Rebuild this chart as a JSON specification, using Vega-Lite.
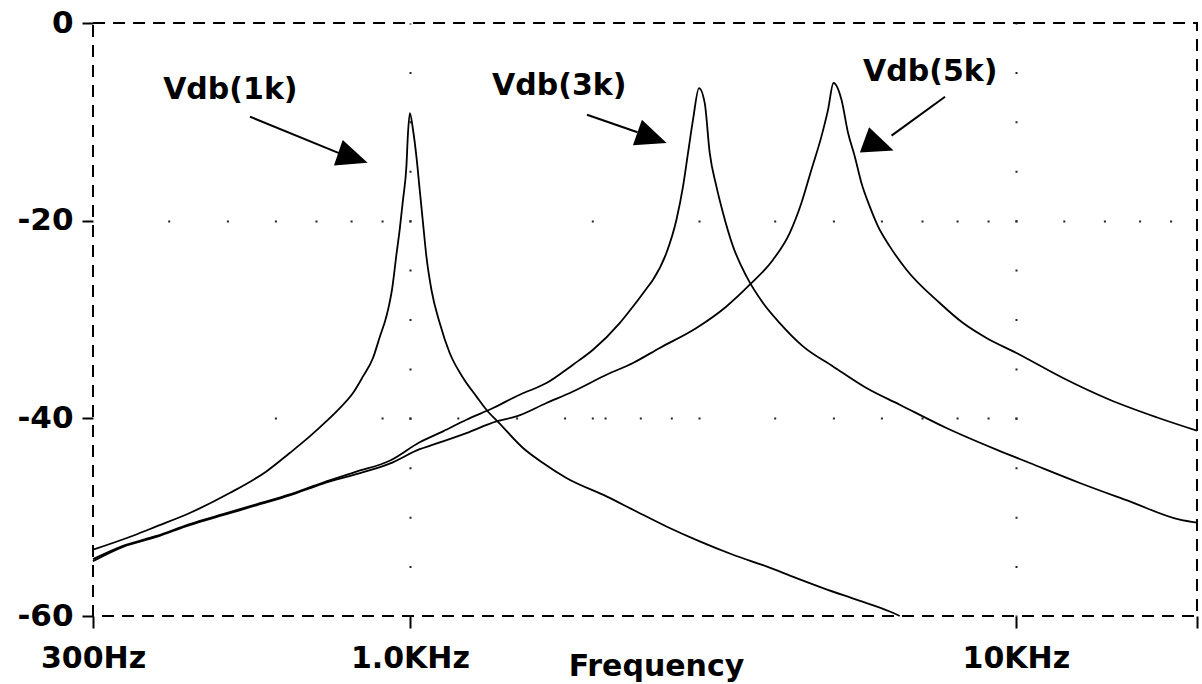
{
  "$schema": "https://vega.github.io/schema/vega-lite/v6.json",
  "width": 1104,
  "height": 593,
  "autosize": {"type": "none"},
  "padding": {"left": 93, "top": 23, "right": 5, "bottom": 68},
  "background": "white",
  "config": {
    "view": {"stroke": "black", "strokeWidth": 2, "strokeDash": [12, 8]},
    "font": "DejaVu Sans"
  },
  "datasets": {
    "curves": [
      {"series": "1k", "freq": 300, "db": -53.29},
      {"series": "1k", "freq": 349.2, "db": -51.88},
      {"series": "1k", "freq": 381.8, "db": -50.94},
      {"series": "1k", "freq": 433.2, "db": -49.58},
      {"series": "1k", "freq": 504.3, "db": -47.56},
      {"series": "1k", "freq": 579.7, "db": -45.37},
      {"series": "1k", "freq": 633.4, "db": -43.51},
      {"series": "1k", "freq": 683.6, "db": -41.83},
      {"series": "1k", "freq": 728.4, "db": -40.29},
      {"series": "1k", "freq": 766.2, "db": -38.96},
      {"series": "1k", "freq": 805.6, "db": -37.44},
      {"series": "1k", "freq": 836.8, "db": -35.76},
      {"series": "1k", "freq": 869.2, "db": -33.9},
      {"series": "1k", "freq": 891.6, "db": -31.8},
      {"series": "1k", "freq": 914.6, "db": -29.69},
      {"series": "1k", "freq": 924.4, "db": -28.5},
      {"series": "1k", "freq": 934.3, "db": -26.99},
      {"series": "1k", "freq": 942.8, "db": -25.16},
      {"series": "1k", "freq": 950.1, "db": -23.44},
      {"series": "1k", "freq": 962.1, "db": -20.91},
      {"series": "1k", "freq": 974.3, "db": -17.88},
      {"series": "1k", "freq": 986.9, "db": -14.51},
      {"series": "1k", "freq": 992.9, "db": -11.13},
      {"series": "1k", "freq": 1000, "db": -9.11},
      {"series": "1k", "freq": 1012, "db": -10.8},
      {"series": "1k", "freq": 1025.1, "db": -13.5},
      {"series": "1k", "freq": 1038.1, "db": -16.87},
      {"series": "1k", "freq": 1051.2, "db": -20.24},
      {"series": "1k", "freq": 1064.8, "db": -23.62},
      {"series": "1k", "freq": 1085.3, "db": -26.99},
      {"series": "1k", "freq": 1120.1, "db": -30.36},
      {"series": "1k", "freq": 1163.4, "db": -33.39},
      {"series": "1k", "freq": 1223.7, "db": -35.89},
      {"series": "1k", "freq": 1287.6, "db": -37.78},
      {"series": "1k", "freq": 1337.5, "db": -39.13},
      {"series": "1k", "freq": 1406.9, "db": -40.54},
      {"series": "1k", "freq": 1537, "db": -43.0},
      {"series": "1k", "freq": 1658.6, "db": -44.52},
      {"series": "1k", "freq": 1812.5, "db": -46.04},
      {"series": "1k", "freq": 2110.7, "db": -47.9},
      {"series": "1k", "freq": 2334.6, "db": -49.25},
      {"series": "1k", "freq": 2650.4, "db": -50.94},
      {"series": "1k", "freq": 3008, "db": -52.45},
      {"series": "1k", "freq": 3413.7, "db": -53.8},
      {"series": "1k", "freq": 3875.4, "db": -54.98},
      {"series": "1k", "freq": 4344, "db": -56.16},
      {"series": "1k", "freq": 4806.3, "db": -57.17},
      {"series": "1k", "freq": 5455.8, "db": -58.35},
      {"series": "1k", "freq": 6192.3, "db": -59.54},
      {"series": "1k", "freq": 6432, "db": -60},
      {"series": "3k", "freq": 300, "db": -54.25},
      {"series": "3k", "freq": 336.2, "db": -52.9},
      {"series": "3k", "freq": 381.8, "db": -51.9},
      {"series": "3k", "freq": 433.2, "db": -50.7},
      {"series": "3k", "freq": 491.6, "db": -49.7},
      {"series": "3k", "freq": 558.1, "db": -48.7},
      {"series": "3k", "freq": 633.4, "db": -47.7},
      {"series": "3k", "freq": 719.1, "db": -46.5},
      {"series": "3k", "freq": 816.1, "db": -45.4},
      {"series": "3k", "freq": 926.1, "db": -44.29},
      {"series": "3k", "freq": 1038.1, "db": -42.42},
      {"series": "3k", "freq": 1134.2, "db": -41.32},
      {"series": "3k", "freq": 1239.6, "db": -40.14},
      {"series": "3k", "freq": 1371.6, "db": -38.96},
      {"series": "3k", "freq": 1517.8, "db": -37.61},
      {"series": "3k", "freq": 1680.2, "db": -36.43},
      {"series": "3k", "freq": 1858.4, "db": -34.57},
      {"series": "3k", "freq": 2005.4, "db": -33.06},
      {"series": "3k", "freq": 2219.4, "db": -30.36},
      {"series": "3k", "freq": 2334.6, "db": -28.68},
      {"series": "3k", "freq": 2456.6, "db": -26.88},
      {"series": "3k", "freq": 2519, "db": -25.97},
      {"series": "3k", "freq": 2650.4, "db": -23.27},
      {"series": "3k", "freq": 2753.4, "db": -19.9},
      {"series": "3k", "freq": 2823.3, "db": -16.53},
      {"series": "3k", "freq": 2877.4, "db": -13.15},
      {"series": "3k", "freq": 2932.4, "db": -9.78},
      {"series": "3k", "freq": 3000, "db": -6.58},
      {"series": "3k", "freq": 3065.6, "db": -8.09},
      {"series": "3k", "freq": 3124.6, "db": -13.15},
      {"series": "3k", "freq": 3204.9, "db": -16.53},
      {"series": "3k", "freq": 3286.4, "db": -19.22},
      {"series": "3k", "freq": 3413.7, "db": -22.6},
      {"series": "3k", "freq": 3592.5, "db": -25.64},
      {"series": "3k", "freq": 3826, "db": -28.33},
      {"series": "3k", "freq": 4077.2, "db": -30.36},
      {"series": "3k", "freq": 4453.9, "db": -32.72},
      {"series": "3k", "freq": 4992.9, "db": -34.75},
      {"series": "3k", "freq": 5667, "db": -36.93},
      {"series": "3k", "freq": 6432.3, "db": -38.62},
      {"series": "3k", "freq": 7680.5, "db": -40.98},
      {"series": "3k", "freq": 9289.4, "db": -43.17},
      {"series": "3k", "freq": 10540, "db": -44.52},
      {"series": "3k", "freq": 12749, "db": -46.54},
      {"series": "3k", "freq": 15416, "db": -48.41},
      {"series": "3k", "freq": 18643, "db": -50.26},
      {"series": "3k", "freq": 19900, "db": -50.56},
      {"series": "5k", "freq": 300, "db": -54.45},
      {"series": "5k", "freq": 336.2, "db": -53.0},
      {"series": "5k", "freq": 381.8, "db": -52.0},
      {"series": "5k", "freq": 433.2, "db": -50.8},
      {"series": "5k", "freq": 491.6, "db": -49.8},
      {"series": "5k", "freq": 558.1, "db": -48.8},
      {"series": "5k", "freq": 633.4, "db": -47.8},
      {"series": "5k", "freq": 719.1, "db": -46.6},
      {"series": "5k", "freq": 816.1, "db": -45.65},
      {"series": "5k", "freq": 926.1, "db": -44.59},
      {"series": "5k", "freq": 1038.1, "db": -43.12},
      {"series": "5k", "freq": 1091.8, "db": -42.67},
      {"series": "5k", "freq": 1239.6, "db": -41.49},
      {"series": "5k", "freq": 1389.4, "db": -40.31},
      {"series": "5k", "freq": 1498.9, "db": -39.81},
      {"series": "5k", "freq": 1680.2, "db": -38.45},
      {"series": "5k", "freq": 1858.4, "db": -37.28},
      {"series": "5k", "freq": 2110.7, "db": -35.59},
      {"series": "5k", "freq": 2334.6, "db": -34.4},
      {"series": "5k", "freq": 2584, "db": -32.88},
      {"series": "5k", "freq": 2970.5, "db": -30.86},
      {"series": "5k", "freq": 3329.2, "db": -28.68},
      {"series": "5k", "freq": 3637.8, "db": -26.48},
      {"series": "5k", "freq": 3974.8, "db": -23.95},
      {"series": "5k", "freq": 4233.9, "db": -21.25},
      {"series": "5k", "freq": 4426.7, "db": -18.21},
      {"series": "5k", "freq": 4598.1, "db": -14.84},
      {"series": "5k", "freq": 4777.1, "db": -11.47},
      {"series": "5k", "freq": 4898.6, "db": -8.77},
      {"series": "5k", "freq": 5000, "db": -6.07},
      {"series": "5k", "freq": 5154.7, "db": -7.76},
      {"series": "5k", "freq": 5285.6, "db": -11.13},
      {"series": "5k", "freq": 5421.7, "db": -13.5},
      {"series": "5k", "freq": 5561, "db": -16.19},
      {"series": "5k", "freq": 5738.5, "db": -18.56},
      {"series": "5k", "freq": 5922.6, "db": -20.58},
      {"series": "5k", "freq": 6192.3, "db": -22.6},
      {"series": "5k", "freq": 6598.2, "db": -24.96},
      {"series": "5k", "freq": 7487.4, "db": -28.33},
      {"series": "5k", "freq": 8182.2, "db": -30.36},
      {"series": "5k", "freq": 8943, "db": -31.87},
      {"series": "5k", "freq": 10022, "db": -33.39},
      {"series": "5k", "freq": 11961, "db": -35.92},
      {"series": "5k", "freq": 14283, "db": -38.12},
      {"series": "5k", "freq": 17060, "db": -39.89},
      {"series": "5k", "freq": 19900, "db": -41.25}
    ],
    "arrows": [
      {"label": "Vdb(1k)", "freq": 544.6, "db": -9.48, "freq2": 763.9, "db2": -13.17},
      {"label": "Vdb(3k)", "freq": 1960.2, "db": -9.28, "freq2": 2374.8, "db2": -11.05},
      {"label": "Vdb(5k)", "freq": 7639.8, "db": -7.46, "freq2": 6234.9, "db2": -11.4}
    ],
    "heads": [
      {"label": "Vdb(1k)", "freq": 805.6, "db": -13.63},
      {"label": "Vdb(3k)", "freq": 2509.4, "db": -11.61},
      {"label": "Vdb(5k)", "freq": 5945.4, "db": -12.36}
    ],
    "labels": [
      {"label": "Vdb(1k)", "freq": 391.6, "db": -7.66},
      {"label": "Vdb(3k)", "freq": 1366.4, "db": -7.25},
      {"label": "Vdb(5k)", "freq": 5594.5, "db": -5.91}
    ]
  },
  "encoding": {
    "x": {
      "field": "freq",
      "type": "quantitative",
      "scale": {"type": "log", "domain": [300, 19900], "nice": false},
      "axis": {
        "title": "Frequency",
        "titleFont": "DejaVu Sans",
        "titleFontSize": 30,
        "titleFontWeight": "bold",
        "titleColor": "black",
        "titleX": 563,
        "titleY": 59,
        "titleAlign": "center",
        "titleBaseline": "alphabetic",
        "values": [300, 1000, 10000, 19900],
        "labelExpr": "datum.value == 300 ? '300Hz' : datum.value == 1000 ? '1.0KHz' : datum.value == 10000 ? '10KHz' : ''",
        "labelFlush": false,
        "labelOverlap": false,
        "labelFont": "DejaVu Sans",
        "labelFontSize": 30,
        "labelFontWeight": "bold",
        "labelColor": "black",
        "labelPadding": 15,
        "domain": false,
        "ticks": true,
        "tickSize": 12,
        "tickWidth": 2,
        "tickColor": "black",
        "grid": true,
        "gridColor": "#222222",
        "gridWidth": 2,
        "gridOpacity": {"condition": {"test": "datum.value == 1000 || datum.value == 10000", "value": 1}, "value": 0},
        "gridDash": [2, 47.42],
        "gridDashOffset": 1
      }
    },
    "y": {
      "field": "db",
      "type": "quantitative",
      "scale": {"domain": [-60, 0], "nice": false, "zero": false},
      "axis": {
        "title": null,
        "values": [0, -20, -40, -60],
        "labelExpr": "datum.value == 0 ? '0' : '-' + abs(datum.value)",
        "labelFont": "DejaVu Sans",
        "labelFontSize": 31,
        "labelFontWeight": "bold",
        "labelColor": "black",
        "labelPadding": 9,
        "domain": false,
        "ticks": true,
        "tickSize": 11,
        "tickWidth": 2,
        "tickColor": "black",
        "grid": true,
        "gridColor": "#222222",
        "gridWidth": 2,
        "gridOpacity": {"condition": {"test": "datum.value == -20 || datum.value == -40", "value": 1}, "value": 0},
        "gridDash": {
          "condition": {"test": "datum.value == -40", "value": [0, 181.4, 2, 104.7, 2, 25.8, 2, 45.9, 2, 56.8, 2, 46, 2, 25.7, 2, 10.8, 2, 33.2, 2, 29, 2, 25.7, 2, 73.7, 2, 56.7, 2, 46, 2, 38.6, 2, 33.1, 2, 29, 2, 25.8, 2, 300]},
          "value": [0, 74.7, 2, 56.7, 2, 46, 2, 38.6, 2, 33.1, 2, 29, 2, 25.8, 2, 180.4, 2, 104.7, 2, 73.7, 2, 56.7, 2, 46, 2, 38.6, 2, 33.1, 2, 29, 2, 25.8, 2, 45.9, 2, 38.6, 2, 33.2, 2, 29, 2, 200]
        }
      }
    }
  },
  "layer": [
    {
      "data": {"name": "curves"},
      "mark": {"type": "line", "color": "black", "strokeWidth": 1.8, "interpolate": "monotone"},
      "encoding": {"detail": {"field": "series", "type": "nominal"}}
    },
    {
      "data": {"name": "arrows"},
      "mark": {"type": "rule", "color": "black", "strokeWidth": 2},
      "encoding": {"x2": {"field": "freq2"}, "y2": {"field": "db2"}}
    },
    {
      "data": {"name": "heads"},
      "mark": {"type": "point", "shape": "M1,0L-1,-0.87L-1,0.87Z", "filled": true, "color": "black", "opacity": 1, "size": 960},
      "encoding": {
        "angle": {"field": "label", "type": "nominal", "scale": {"domain": ["Vdb(1k)", "Vdb(3k)", "Vdb(5k)"], "range": [19, 20, 142]}, "legend": null}
      }
    },
    {
      "data": {"name": "labels"},
      "mark": {"type": "text", "align": "left", "baseline": "alphabetic", "font": "DejaVu Sans", "fontSize": 30, "fontWeight": "bold", "color": "black"},
      "encoding": {"text": {"field": "label", "type": "nominal"}}
    }
  ]
}
